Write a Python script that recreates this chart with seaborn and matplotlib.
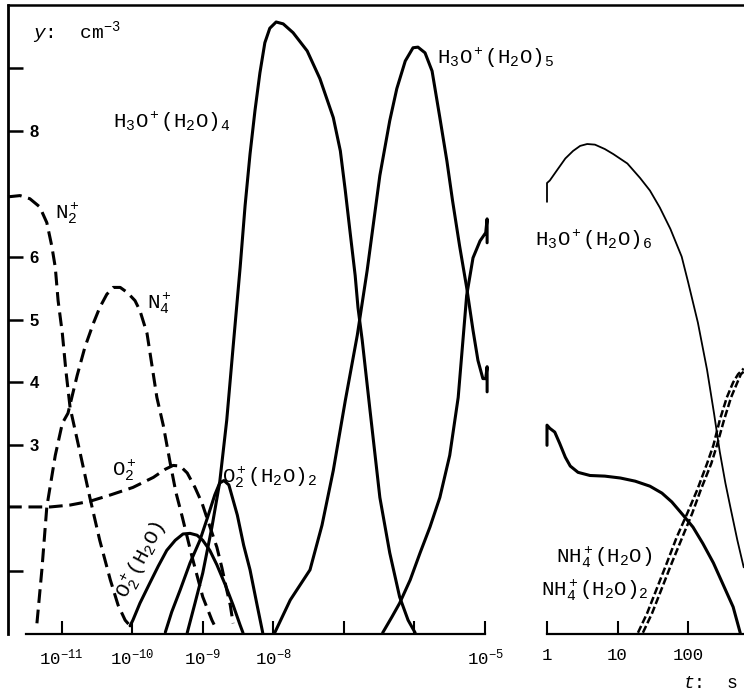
import matplotlib
matplotlib.use('Agg')
import matplotlib.pyplot as plt
import seaborn as sns
import numpy as np
import pandas as pd
from matplotlib.lines import Line2D
from matplotlib.ticker import NullLocator

sns.set_theme(style='white')
plt.rcParams['font.family'] = ['Liberation Mono', 'DejaVu Sans']
plt.rcParams['mathtext.fontset'] = 'custom'
plt.rcParams['mathtext.rm'] = 'Liberation Mono'
plt.rcParams['mathtext.it'] = 'Liberation Mono:italic'
plt.rcParams['mathtext.bf'] = 'Liberation Mono:bold'

# ---------------- data (x = log10 t [s], y = log10 concentration) ----------------
# left panel (1e-12 .. 1e-5 s)
n2_lt = [-11.76, -11.59, -11.45, -11.31, -11.21, -11.14, -11.09, -11.05, -10.99, -10.94,
         -10.88, -10.74, -10.60, -10.46, -10.31, -10.20, -10.10, -10.03]
n2_y = [6.95, 6.97, 6.92, 6.79, 6.54, 6.17, 5.83, 5.30, 4.78, 4.19,
        3.60, 2.89, 2.17, 1.49, 0.86, 0.46, 0.22, 0.13]

n4_lt = [-11.35, -11.28, -11.21, -11.09, -10.99, -10.91, -10.78, -10.67, -10.55, -10.46,
         -10.36, -10.27, -10.17, -10.07, -9.96, -9.89, -9.79, -9.72, -9.65, -9.56,
         -9.46, -9.38, -9.29, -9.15, -9.00, -8.87, -8.80]
n4_y = [0.17, 1.02, 2.02, 2.84, 3.35, 3.51, 4.11, 4.56, 4.94, 5.19,
        5.40, 5.51, 5.51, 5.43, 5.30, 5.14, 4.78, 4.27, 3.76, 3.32,
        2.71, 2.25, 1.86, 1.22, 0.59, 0.22, 0.06]

o2_lt = [-11.76, -11.45, -11.16, -10.88, -10.60, -10.31, -9.99, -9.70, -9.53, -9.42,
         -9.32, -9.22, -9.11, -9.01, -8.93, -8.80, -8.73, -8.66, -8.61, -8.57]
o2_y = [2.02, 2.02, 2.02, 2.05, 2.11, 2.21, 2.33, 2.49, 2.62, 2.68,
        2.67, 2.56, 2.33, 2.08, 1.81, 1.38, 1.06, 0.70, 0.46, 0.17]

o2w_lt = [-10.03, -9.99, -9.89, -9.75, -9.63, -9.51, -9.39, -9.28, -9.18, -9.08,
          -9.00, -8.90, -8.80, -8.68, -8.57, -8.47, -8.43]
o2w_y = [0.13, 0.22, 0.49, 0.81, 1.08, 1.33, 1.49, 1.59, 1.60, 1.57,
         1.49, 1.33, 1.10, 0.78, 0.46, 0.14, 0.02]

o2w2_lt = [-9.53, -9.44, -9.32, -9.18, -9.04, -8.93, -8.83, -8.76, -8.70, -8.63,
           -8.51, -8.42, -8.33, -8.23, -8.15]
o2w2_y = [0.03, 0.35, 0.70, 1.13, 1.49, 1.86, 2.21, 2.40, 2.44, 2.37,
          1.89, 1.41, 1.02, 0.46, 0.02]

h4_lt = [-9.22, -9.11, -9.00, -8.87, -8.76, -8.66, -8.57, -8.47, -8.40, -8.33,
         -8.26, -8.19, -8.12, -8.05, -7.96, -7.86, -7.72, -7.52, -7.34, -7.15,
         -7.05, -6.98, -6.91, -6.84, -6.80, -6.74, -6.63, -6.49, -6.35, -6.21,
         -6.09, -5.99]
h4_y = [0.02, 0.49, 0.97, 1.70, 2.41, 3.40, 4.56, 5.83, 6.81, 7.63,
        8.32, 8.92, 9.40, 9.63, 9.73, 9.70, 9.56, 9.27, 8.83, 8.21,
        7.68, 7.05, 6.37, 5.70, 5.19, 4.67, 3.56, 2.17, 1.29, 0.59,
        0.22, 0.02]

h5_lt = [-7.98, -7.76, -7.48, -7.31, -7.15, -6.98, -6.81, -6.67, -6.49, -6.35,
         -6.25, -6.13, -6.02, -5.95, -5.85, -5.75, -5.64, -5.54, -5.46, -5.36,
         -5.26, -5.17, -5.10, -5.03, -4.99, -4.97, -4.97]
h5_y = [0.02, 0.54, 1.02, 1.73, 2.60, 3.71, 4.75, 5.78, 7.29, 8.16,
        8.67, 9.11, 9.32, 9.33, 9.24, 8.95, 8.21, 7.52, 6.89, 6.17,
        5.51, 4.83, 4.35, 4.06, 4.06, 4.25, 3.85]

h6a_lt = [-6.45, -6.32, -6.21, -6.06, -5.92, -5.78, -5.64, -5.50, -5.38, -5.26,
          -5.17, -5.07, -4.99, -4.97, -4.97]
h6a_y = [0.02, 0.27, 0.49, 0.86, 1.29, 1.70, 2.17, 2.84, 3.76, 5.38,
         5.98, 6.25, 6.38, 6.60, 6.22]

# right panel (1 .. ~600 s)
h6b_lt = [0.00, 0.00, 0.04, 0.14, 0.26, 0.37, 0.47, 0.57, 0.68, 0.82,
          0.94, 1.14, 1.32, 1.46, 1.60, 1.75, 1.91, 2.00, 2.14, 2.27,
          2.37, 2.45, 2.53, 2.60, 2.70, 2.79]
h6b_y = [6.87, 7.17, 7.21, 7.37, 7.56, 7.68, 7.76, 7.79, 7.78, 7.71,
         7.63, 7.48, 7.25, 7.05, 6.78, 6.44, 6.00, 5.60, 4.95, 4.20,
         3.50, 2.90, 2.40, 2.02, 1.49, 1.06]

h5b_lt = [0.00, 0.00, 0.04, 0.11, 0.18, 0.26, 0.33, 0.44, 0.61, 0.82,
          1.04, 1.25, 1.46, 1.63, 1.77, 1.93, 2.07, 2.21, 2.36, 2.50,
          2.64, 2.74]
h5b_y = [3.00, 3.32, 3.27, 3.21, 3.03, 2.81, 2.67, 2.57, 2.52, 2.51,
         2.48, 2.43, 2.35, 2.24, 2.10, 1.89, 1.70, 1.44, 1.13, 0.78,
         0.43, 0.02]

nh1_lt = [1.29, 1.42, 1.56, 1.70, 1.84, 1.99, 2.13, 2.27, 2.36, 2.45,
          2.55, 2.64, 2.71, 2.79]
nh1_y = [0.02, 0.33, 0.73, 1.13, 1.54, 1.92, 2.29, 2.71, 3.00, 3.40,
         3.76, 4.00, 4.13, 4.22]

nh2_lt = [1.36, 1.49, 1.63, 1.77, 1.92, 2.06, 2.18, 2.33, 2.41, 2.51,
          2.61, 2.70, 2.75, 2.79]
nh2_y = [0.02, 0.33, 0.73, 1.13, 1.54, 1.92, 2.29, 2.71, 3.00, 3.40,
         3.76, 4.00, 4.13, 4.17]

left_ticks = [1e-11, 1e-10, 1e-9, 1e-8, 1e-7, 1e-6, 1e-5]
left_ticklabels = [r'$\mathrm{10^{-11}}$', r'$\mathrm{10^{-10}}$', r'$\mathrm{10^{-9}}$',
                   r'$\mathrm{10^{-8}}$', '', '', r'$\mathrm{10^{-5}}$']
right_ticks = [1, 10, 100]
right_ticklabels = ['1', '10', '100']
y_ticks = [1, 3, 4, 5, 6, 8, 9]
y_ticklabels = ['', '3', '4', '5', '6', '8', '']

# ---------------- figure ----------------
W, H = 744, 698
fig = plt.figure(figsize=(W / 100, H / 100), dpi=100, facecolor='white')

def fx(px):
    return px / W

def fy(py):
    return 1 - py / H

ax1 = fig.add_axes([fx(8), fy(634), fx(485) - fx(8), fy(5) - fy(634)])
ax2 = fig.add_axes([fx(547), fy(634), 1 - fx(547), fy(5) - fy(634)])
for ax in (ax1, ax2):
    ax.set_facecolor('none')
    ax.set_xscale('log')
    ax.set_ylim(0, 10)

ax1.set_xlim(10 ** -11.76, 1e-5)
ax2.set_xlim(1, 10 ** 2.794)

DASH = (0, (4.5, 2.2))

def draw(ax, lt, y, ls='-', lw=2.2):
    df = pd.DataFrame({'t': np.power(10.0, np.array(lt)), 'y': y})
    sns.lineplot(data=df, x='t', y='y', ax=ax, color='black', lw=lw, linestyle=ls,
                 sort=False, estimator=None, clip_on=False)

draw(ax1, n2_lt, n2_y, DASH)
draw(ax1, n4_lt, n4_y, DASH)
draw(ax1, o2_lt, o2_y, DASH)
draw(ax1, o2w_lt, o2w_y)
draw(ax1, o2w2_lt, o2w2_y)
draw(ax1, h4_lt, h4_y)
draw(ax1, h5_lt, h5_y)
draw(ax1, h6a_lt, h6a_y)

draw(ax2, h6b_lt, h6b_y, lw=1.3)
draw(ax2, h5b_lt, h5b_y, lw=2.2)
draw(ax2, nh1_lt, nh1_y, (0, (3.0, 1.2)), lw=1.8)
draw(ax2, nh2_lt, nh2_y, (0, (3.0, 1.2)), lw=1.8)

for ax in (ax1, ax2):
    ax.set_xlabel('')
    ax.set_ylabel('')
    ax.xaxis.set_minor_locator(NullLocator())
    ax.spines['top'].set_visible(False)
    ax.spines['right'].set_visible(False)
    ax.spines['bottom'].set_color('black')
    ax.spines['bottom'].set_linewidth(1.6)
    ax.grid(False)

ax1.spines['left'].set_color('black')
ax1.spines['left'].set_linewidth(2.0)
ax1.spines['bottom'].set_bounds(10 ** -11.5, 1e-5)
ax2.spines['left'].set_visible(False)

ax1.set_xticks(left_ticks)
ax1.set_xticklabels(left_ticklabels, fontsize=12.5, family='Liberation Mono')
ax2.set_xticks(right_ticks)
ax2.set_xticklabels(right_ticklabels, fontsize=12.5, family='Liberation Mono')
for ax in (ax1, ax2):
    ax.tick_params(axis='x', which='major', direction='in', length=9.5, width=1.5,
                   color='black', pad=10, labelcolor='black', bottom=True)

ax1.set_yticks(y_ticks)
ax1.set_yticklabels(y_ticklabels, fontsize=12, family='Liberation Sans', weight='bold')
ax1.tick_params(axis='y', direction='in', length=11, width=1.8, color='black',
                pad=-22, labelcolor='black', left=True)
ax2.set_yticks([])

# top border spanning whole figure
fig.add_artist(Line2D([fx(8), 1.0], [fy(5), fy(5)], color='black', lw=1.8,
                      transform=fig.transFigure))

# ---------------- texts ----------------
def label(px, py, s, size=15, **kw):
    fig.text(fx(px), fy(py), s, fontsize=size, color='black', va='center', ha='left', **kw)

label(113, 122, r'$\mathrm{H_3O^+(H_2O)_4}$')
label(437, 58, r'$\mathrm{H_3O^+(H_2O)_5}$')
label(535, 240, r'$\mathrm{H_3O^+(H_2O)_6}$')
label(55, 213, r'$\mathrm{N_2^+}$')
label(147, 303, r'$\mathrm{N_4^+}$')
label(112, 470, r'$\mathrm{O_2^+}$')
label(222, 477, r'$\mathrm{O_2^+(H_2O)_2}$')
fig.text(fx(141), fy(560), r'$\mathrm{O_2^+(H_2O)}$', fontsize=15, rotation=62,
         ha='center', va='center', color='black')
label(556, 557, r'$\mathrm{NH_4^+(H_2O)}$')
label(541, 590, r'$\mathrm{NH_4^+(H_2O)_2}$')

label(33, 33, r'$\mathit{y}$:  cm$^{\mathrm{-3}}$', size=14)
fig.text(fx(738), fy(683), r'$\mathit{t}$:  s', fontsize=13, color='black',
         va='center', ha='right')

fig.savefig('out.png', dpi=100, facecolor='white')
